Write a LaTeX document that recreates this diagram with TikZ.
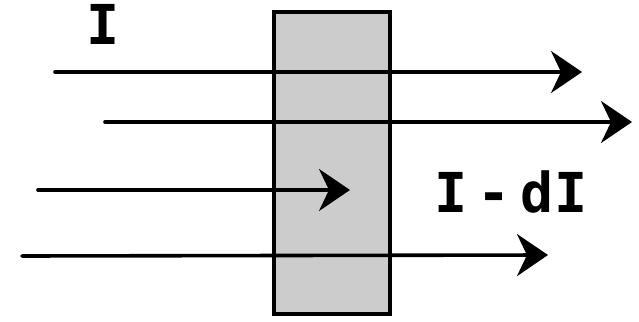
\documentclass[tikz,border=0pt]{standalone}
\usepackage{fontspec}
\newfontfamily\hand[WordSpace=0.3]{DejaVu Sans Mono}
\usetikzlibrary{arrows.meta}
\definecolor{slabgray}{HTML}{CCCCCC}
\tikzset{
  slabbox/.style={draw=black, fill=slabgray, line width=4.2pt, minimum width=116pt, minimum height=302pt, inner sep=0pt},
  ray/.style={line width=3.6pt, line cap=round, -{Stealth[length=31pt, width=42pt, inset=10pt]}},
  label/.style={font=\hand\bfseries\fontsize{55}{60}\selectfont, inner sep=0pt}
}
\begin{document}
\begin{tikzpicture}[x=1pt, y=-1pt]
\useasboundingbox (0,0) rectangle (639,321);
\node[slabbox] (slab) at (332,163) {};
\coordinate (s1) at (55,72);   \coordinate (e1) at (582,72);
\coordinate (s2) at (105,122); \coordinate (e2) at (632,122);
\coordinate (s3) at (38,190);  \coordinate (e3) at (350,190);
\coordinate (s4) at (22,256);  \coordinate (e4) at (548,255);
\draw[ray] (s1) -- (e1);
\draw[ray] (s2) -- (e2);
\draw[ray] (s3) -- (e3);
\draw[ray] (s4) -- (e4);
\node[label] (lin) at (103,24) {I};
\node[label] (lout) at (511,192) {I - dI};
\end{tikzpicture}
\end{document}
